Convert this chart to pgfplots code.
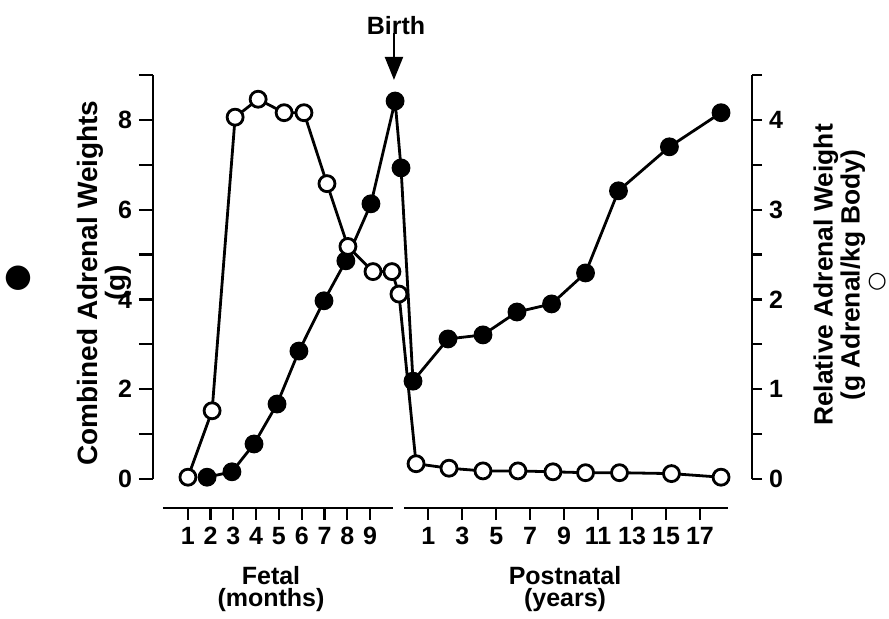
\documentclass[border=0pt]{standalone}
\usepackage{pgfplots}
\pgfplotsset{compat=1.18}
\usepackage{pgfplotstable}
\usepackage{fontspec}
\setmainfont{Liberation Sans}
\newfontfamily\symfont{DejaVu Sans}
\usetikzlibrary{arrows.meta}

% p = 0: fetal (t in months), p = 1: postnatal (t in years)
\pgfplotstableread{
p t w
0 1.85 0.04
0 2.94 0.16
0 3.91 0.78
0 4.92 1.67
0 5.88 2.85
0 6.98 3.97
0 7.94 4.86
0 9.04 6.13
0 10.1 8.42
0 10.36 6.93
1 0.1 2.18
1 2.16 3.12
1 4.22 3.21
1 6.22 3.72
1 8.26 3.90
1 10.26 4.59
1 12.2 6.42
1 15.2 7.40
1 18.24 8.16
}\filled

\pgfplotstableread{
p t r
0 1.01 0.02
0 2.07 0.76
0 3.08 4.03
0 4.09 4.23
0 5.23 4.08
0 6.10 4.08
0 7.11 3.29
0 8.03 2.59
0 9.13 2.31
0 9.96 2.31
0 10.27 2.06
1 0.28 0.17
1 2.22 0.12
1 4.22 0.09
1 6.28 0.09
1 8.34 0.08
1 10.26 0.07
1 12.26 0.07
1 15.32 0.06
1 18.24 0.02
}\open

\pgfplotsset{
  common/.style={
    scale only axis, width=299.5pt, height=202pt,
    xmin=-0.523, xmax=25.76, clip=false,
    axis x line=none,
    axis line style={line width=1.1pt,-},
    every tick/.style={line width=1.1pt,black},
    tick align=outside,
    /pgf/number format/assume math mode=true,
    ticklabel style={font=\bfseries\fontsize{12.5}{12}\selectfont},
  },
  xseg/.style={
    scale only axis, height=10pt, ymin=0, ymax=1,
    axis x line*=bottom, axis y line=none,
    axis line style={line width=1.1pt,-},
    every tick/.style={line width=1.1pt,black},
    tick align=outside, major tick length=6pt,
    /pgf/number format/assume math mode=true,
    ticklabel style={font=\bfseries\fontsize{12.5}{12}\selectfont},
    xlabel style={font=\bfseries\fontsize{12.5}{11}\selectfont, align=center, anchor=center},
  },
}

\begin{document}
\begin{tikzpicture}
\useasboundingbox (-76.5pt,-70pt) rectangle (368pt,239.5pt);

\begin{axis}[common,
  ymin=0, ymax=9,
  axis y line*=left,
  ytick={0,2,4,6,8}, minor ytick={1,3,5,7,9},
  major tick length=7pt, minor tick length=7pt,
  ylabel={Combined Adrenal Weights\\(g)},
  ylabel style={at={(rel axis cs:-0.0818,0.485)}, anchor=center, rotate=0,
    font=\bfseries\fontsize{14}{14}\selectfont, align=center},
]
\addplot[black, line width=1.4pt, mark=*, mark size=4pt,
  mark options={fill=black, draw=black, solid}]
  table[x expr={ifthenelse(\thisrow{p}==0,\thisrow{t},10.811+0.7451*\thisrow{t})}, y=w] {\filled};
\draw[line width=1.1pt, -{Triangle[length=11.5pt,width=9pt]}]
  (axis cs:10.05,9.94) -- (axis cs:10.05,8.89);
\node[font=\bfseries\fontsize{12.5}{12}\selectfont] at (axis cs:10.14,10.1) {Birth};
\node[inner sep=0pt] at (rel axis cs:-0.2254,0.4975) {\symfont\fontsize{16}{16}\selectfont ●};
\end{axis}

\begin{axis}[common,
  ymin=0, ymax=4.5,
  axis y line*=right,
  ytick={0,1,2,3,4}, minor ytick={0.5,1.5,2.5,3.5,4.5},
  major tick length=5pt, minor tick length=5pt,
  ylabel={Relative Adrenal Weight\\(g Adrenal/kg Body)},
  ylabel style={at={(rel axis cs:1.146,0.505)}, anchor=center, rotate=0,
    font=\bfseries\fontsize{13.2}{13.5}\selectfont, align=center},
]
\addplot[black, line width=1.4pt, mark=*, mark size=4pt,
  mark options={fill=white, draw=black, solid}]
  table[x expr={ifthenelse(\thisrow{p}==0,\thisrow{t},10.811+0.7451*\thisrow{t})}, y=r] {\open};
\node[inner sep=0pt] at (rel axis cs:1.209,0.4876) {\symfont\fontsize{11}{11}\selectfont ○};
\end{axis}

\begin{axis}[xseg, width=115pt, at={(5pt,-14.5pt)}, anchor=south west,
  xmin=-0.084, xmax=10.004, xtick={1,2,3,4,5,6,7,8,9},
  xlabel={Fetal\\(months)},
  xlabel style={at={(rel axis cs:0.4696,-4.05)}},
]
\end{axis}

\begin{axis}[xseg, width=162pt, at={(125.5pt,-14.5pt)}, anchor=south west,
  xmin=-0.43, xmax=18.65, xtick={1,3,5,7,9,11,13,15,17},
  xlabel={Postnatal\\(years)},
  xlabel style={at={(rel axis cs:0.497,-4.05)}},
]
\end{axis}
\end{tikzpicture}
\end{document}
